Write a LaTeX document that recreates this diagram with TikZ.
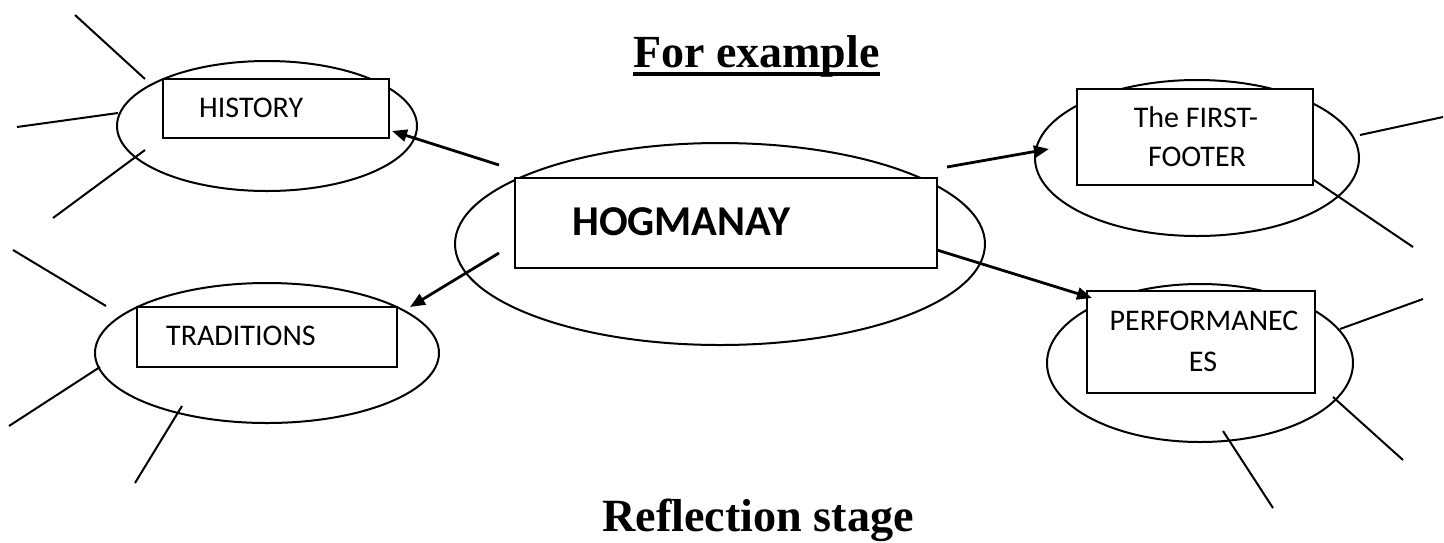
\documentclass[tikz,border=0pt]{standalone}
\usepackage{fontspec}
\setmainfont{Carlito}
\newfontfamily\titlefont{Liberation Serif}
\usetikzlibrary{shapes.geometric,arrows.meta}
\begin{document}
\begin{tikzpicture}[x=1pt,y=-1pt,
  bubble/.style={draw,ellipse,line width=2pt,inner sep=0pt},
  topicbox/.style={draw,rectangle,line width=2.2pt,fill=white,inner sep=0pt},
  spoke/.style={line width=2pt},
  link/.style={line width=2.8pt,-{Triangle[length=15pt,width=12pt]}},
  lbl/.style={font=\fontsize{30}{36}\selectfont,inner sep=0pt},
  heading/.style={font=\titlefont\bfseries\fontsize{46}{52}\selectfont,inner sep=0pt}]
\useasboundingbox (0,0) rectangle (1444,542);

% headings
\node[heading,anchor=base west] (fortitle) at (633,67) {For example};
\draw[line width=3.5pt] ([yshift=-7pt]fortitle.base west) -- ([yshift=-7pt]fortitle.base east);
\node[heading,font=\titlefont\bfseries\fontsize{46.2}{52}\selectfont,anchor=base west] (refltitle) at (602,531) {Reflection stage};

% spokes (drawn first so bubbles and boxes sit on top)
\draw[spoke] (75,15) -- (145,79);
\draw[spoke] (17,127) -- (118,113);
\draw[spoke] (53,218) -- (145,150);
\draw[spoke] (13,250) -- (106,306);
\draw[spoke] (9,426) -- (100,367);
\draw[spoke] (135,483) -- (182,406);
\draw[spoke] (1360,135) -- (1443,117);
\draw[spoke] (1308,176) -- (1413,247);
\draw[spoke] (1340,329) -- (1423,299);
\draw[spoke] (1333,397) -- (1403,460);
\draw[spoke] (1223,431) -- (1273,508);

% bubbles
\node[bubble,minimum width=300pt,minimum height=130pt] (histring) at (267,126) {};
\node[bubble,minimum width=530pt,minimum height=202pt] (hogring) at (720,244) {};
\node[bubble,minimum width=344pt,minimum height=140pt] (tradring) at (267,353) {};
\node[bubble,minimum width=324pt,minimum height=156pt] (firstring) at (1197,158) {};
\node[bubble,minimum width=306pt,minimum height=158pt] (perfring) at (1200,363) {};

% boxes
\node[topicbox,minimum width=226pt,minimum height=59pt] (histbox) at (276,108.5) {};
\node[topicbox,minimum width=422pt,minimum height=90pt] (hogbox) at (726,223) {};
\node[topicbox,minimum width=260pt,minimum height=60pt] (tradbox) at (267,337) {};
\node[topicbox,minimum width=236pt,minimum height=96pt] (firstbox) at (1195,137) {};
\node[topicbox,minimum width=228pt,minimum height=102pt] (perfbox) at (1201,342) {};

% labels
\node[lbl,anchor=west] (histtxt) at (199,108) {HISTORY};
\node[lbl,anchor=west,font=\bfseries\fontsize{42.5}{50}\selectfont] (hogtxt) at (572,222) {HOGMANAY};
\node[lbl,anchor=west] (tradtxt) at (166,336) {TRADITIONS};
\node[lbl] (firsttxta) at (1196,117) {The FIRST-};
\node[lbl] (firsttxtb) at (1197,157) {FOOTER};
\node[lbl] (perftxta) at (1204,321) {PERFORMANEC};
\node[lbl] (perftxtb) at (1203,362) {ES};

% arrow ends
\coordinate (hogA) at (499,165);
\coordinate (hogB) at (499,253);
\coordinate (hogC) at (947,167);
\coordinate (hogD) at (937,250);
\coordinate (histin) at (392,131);
\coordinate (tradin) at (410,307);
\coordinate (firstin) at (1049,149);
\coordinate (perfin) at (1092,298);

\draw[link] (hogA) -- (histin);
\draw[link] (hogB) -- (tradin);
\draw[link] (hogC) -- (firstin);
\draw[link] (hogD) -- (perfin);
\end{tikzpicture}
\end{document}
